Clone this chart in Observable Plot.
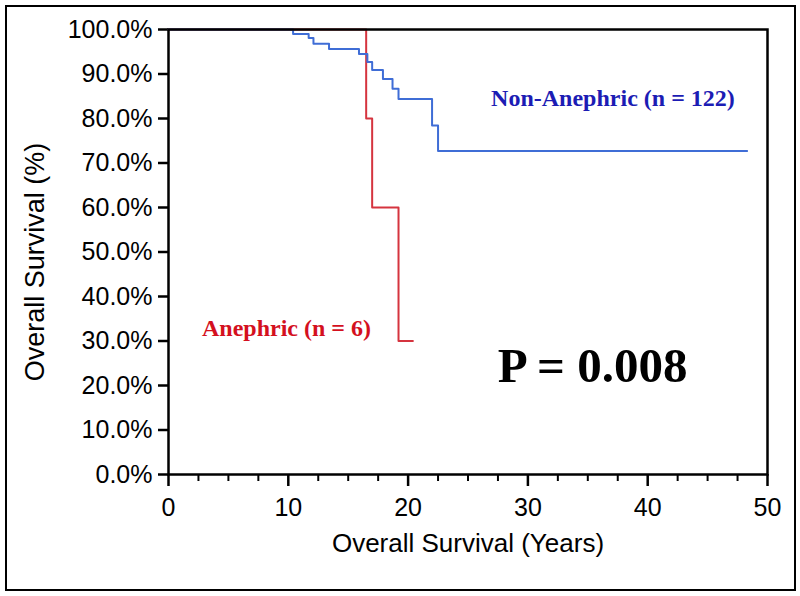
<!DOCTYPE html>
<html>
<head>
<meta charset="utf-8">
<script src="https://cdn.jsdelivr.net/npm/d3@7"></script>
<script src="https://cdn.jsdelivr.net/npm/@observablehq/plot@0.6"></script>
<style>
  html, body { margin: 0; padding: 0; background: #fff; }
  #wrap { position: relative; width: 800px; height: 596px; overflow: hidden; }
  #border { position: absolute; left: 5px; top: 5px; width: 787px; height: 582px; border: 2px solid #000; pointer-events: none; }
</style>
</head>
<body>
<div id="wrap"><div id="border"></div></div>
<script>
// Kaplan-Meier step data (years, survival %)
const blueTime = [0, 10.4, 11.7, 12.1, 13.4, 15.9, 16.6, 17.0, 17.9, 18.7, 19.2, 22.0, 22.5, 48.3];
const blueSurv = [100, 99.0, 98.1, 96.8, 95.6, 94.5, 92.7, 90.9, 88.9, 86.7, 84.4, 78.4, 72.7, 72.7];
const redTime = [0, 16.5, 17.0, 19.2, 20.4];
const redSurv = [100, 80, 60, 30, 30];

const xTicks = [0, 10, 20, 30, 40, 50];
const xMinorTicks = [2.5, 5, 7.5, 12.5, 15, 17.5, 22.5, 25, 27.5, 32.5, 35, 37.5, 42.5, 45, 47.5];
const yTicks = [0, 10, 20, 30, 40, 50, 60, 70, 80, 90, 100];

const labelText = ["Non-Anephric (n = 122)", "Anephric (n = 6)", "P = 0.008"];
const labelX = [37.1, 9.85, 35.4];
const labelY = [84.5, 32.8, 24.3];
const labelColor = ["#1c1cb4", "#d4101e", "#000000"];
const labelSize = [24, 24, 49];

const blue = blueTime.map((t, i) => ({t, s: blueSurv[i]}));
const red = redTime.map((t, i) => ({t, s: redSurv[i]}));
const labels = labelText.map((text, i) => ({text, x: labelX[i], y: labelY[i], color: labelColor[i], size: labelSize[i]}));

const chart = Plot.plot({
  width: 800,
  height: 596,
  marginLeft: 168,
  marginRight: 33,
  marginTop: 29,
  marginBottom: 122,
  style: {fontFamily: "'Liberation Sans', Arial, sans-serif", fontSize: "25px", color: "#000", background: "transparent", overflow: "visible"},
  x: {domain: [0, 50]},
  y: {domain: [0, 100]},
  marks: [
    Plot.axisX({ticks: xMinorTicks, tickSize: 7, tickFormat: () => "", strokeWidth: 2, label: null}),
    Plot.axisX({ticks: xTicks, tickSize: 12, tickPadding: 12, strokeWidth: 2.5, fontSize: 25, label: null, tickFormat: d => String(d)}),
    Plot.axisY({ticks: yTicks, tickSize: 10, tickPadding: 6, strokeWidth: 2.5, fontSize: 25, label: null, tickFormat: d => d.toFixed(1) + "%"}),
    Plot.line(red, {x: "t", y: "s", curve: "step-after", stroke: "#d5343f", strokeWidth: 2}),
    Plot.line(blue, {x: "t", y: "s", curve: "step-after", stroke: "#3f6dd6", strokeWidth: 2}),
    Plot.frame({stroke: "#000", strokeWidth: 2.5}),
    Plot.text(labels, {x: "x", y: "y", text: "text", fill: d => d.color, fontSize: d => d.size, fontWeight: "bold", fontFamily: "'Liberation Serif', 'Times New Roman', serif"}),
    Plot.text(["Overall Survival (Years)"], {frameAnchor: "bottom", dy: 77, fontSize: 26}),
    Plot.text(["Overall Survival (%)"], {frameAnchor: "left", textAnchor: "middle", dx: -133, dy: 10, rotate: -90, fontSize: 27})
  ]
});
document.getElementById("wrap").prepend(chart);
</script>
</body>
</html>
